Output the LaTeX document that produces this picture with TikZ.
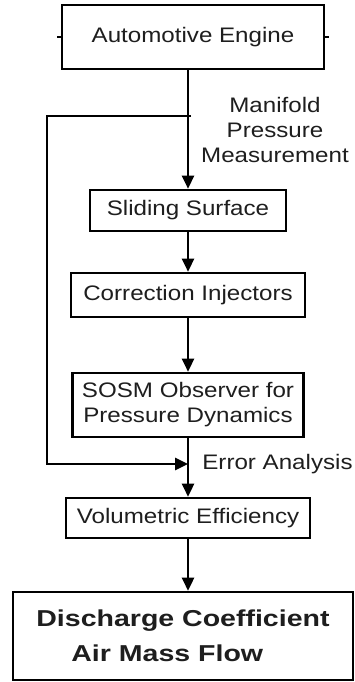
\documentclass[tikz,border=0pt]{standalone}
\usepackage{fontspec}
\setmainfont{Liberation Sans}[FakeStretch=1.15]
\newfontfamily\widefont{Liberation Sans}[FakeStretch=1.24]
\usepackage{tikz}
\usetikzlibrary{arrows.meta, positioning}
\definecolor{inkgray}{RGB}{30,30,30}

\begin{document}
\begin{tikzpicture}[x=1pt, y=1pt,
    font=\fontsize{21}{25}\selectfont, text=inkgray,
    block/.style={draw=black, line width=2.6pt, fill=white, align=center,
                  inner sep=0pt},
    flow/.style={line width=2.6pt, -{Triangle[length=13pt, width=12pt]}},
    wire/.style={line width=2.6pt}]

  \useasboundingbox (0,0) rectangle (355,-682);

  % Blocks
  \node[block, minimum width=262, minimum height=64] (engine) at (193,-37)
    {Automotive Engine};
  \node[block, minimum width=196, minimum height=41] (sliding) at (188,-210.5)
    {Sliding Surface};
  \node[block, minimum width=234, minimum height=44] (correct) at (188,-295)
    {Correction Injectors};
  \node[block, minimum width=231, minimum height=64] (sosm) at (188,-405)
    {SOSM Observer for\\ Pressure Dynamics};
  \node[block, minimum width=244, minimum height=40] (voleff) at (188,-518)
    {Volumetric Efficiency};
  \node[block, minimum width=340, minimum height=88, align=left,
        font=\widefont\bfseries\fontsize{23}{35}\selectfont] (discharge)
    at (183,-636)
    {Discharge Coefficient\\ \hspace*{35pt}Air Mass Flow};

  % Labels
  \node (manifold) at (275,-130) [align=center] {Manifold\\ Pressure\\ Measurement};
  \node (error) at (277.5,-464) {Error Analysis};

  % Ports on the engine
  \draw[wire, line width=2pt] (engine.west) -- ++(-3.5,0);
  \draw[wire, line width=2pt] (engine.east) -- ++(3.5,0);

  % Main flow
  \draw[flow] (engine.south -| sliding.north) -- (sliding.north);
  \draw[flow] (sliding) -- (correct);
  \draw[flow] (correct) -- (sosm);
  \draw[flow] (sosm.south) -- (voleff.north -| sosm.south);
  \draw[flow] (voleff.south -| sosm.south) -- (discharge.north -| sosm.south);

  % Feedback loop
  \coordinate (fbin) at (191,-116);
  \coordinate (fbout) at (sosm.south |- 0,-464);
  \draw[flow] (fbin) -- (47,-116) -- (47,-464) -- (fbout);

\end{tikzpicture}
\end{document}
